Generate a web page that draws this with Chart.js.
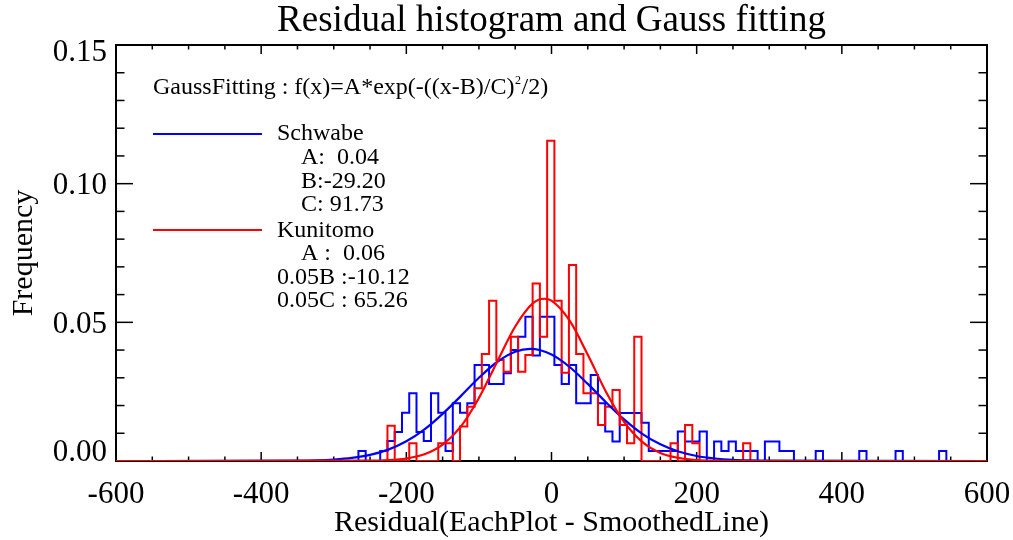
<!DOCTYPE html>
<html>
<head>
<meta charset="utf-8">
<title>Residual histogram and Gauss fitting</title>
<script src="https://cdn.jsdelivr.net/npm/chart.js@4/dist/chart.umd.min.js"></script>
<style>
    body { margin: 0; background: #fff; }
    #wrap { width: 1013px; height: 540px; }
</style>
</head>
<body>
<div id="wrap"><canvas id="histChart" width="1013" height="540"></canvas></div>
<script>
// bins of the two histograms (left edge of first bin, width)
const binStart = -266;
const binWidth = 10;

// Schwabe residual histogram (frequency per bin)
const schwabeFreq = [
    0.0036, 0, 0, 0.0036, 0.0072, 0.0105, 0.0174, 0.0244, 0.0105, 0.0072,
    0.0244, 0.0174, 0.0036, 0.0208, 0.0174, 0.0208, 0.0346, 0.0346, 0.0278, 0.0278,
    0.0316, 0.0400, 0.0448, 0.0520, 0.0380, 0.0520, 0.0520, 0.0346, 0.0278, 0.0346,
    0.0208, 0.0208, 0.0310, 0.0208, 0.0106, 0.0070, 0.0173, 0.0173, 0.0173, 0.0138,
    0.0036, 0.0036, 0.0036, 0.0036, 0.0106, 0.0070, 0.0070, 0.0106, 0, 0.0070,
    0.0036, 0.0070, 0.0036, 0.0036, 0.0036, 0, 0.0070, 0.0070, 0.0036, 0.0036,
    0, 0, 0, 0.0036, 0, 0, 0, 0, 0, 0.0036,
    0, 0, 0, 0, 0.0036, 0, 0, 0, 0, 0,
    0.0036
];

// Kunitomo residual histogram (frequency per bin)
const kunitomoFreq = [
    0, 0, 0, 0, 0.0127, 0, 0, 0.0064, 0, 0,
    0, 0.0064, 0.0064, 0, 0.0124, 0.0196, 0.0262, 0.0386, 0.0578, 0.0364,
    0.0322, 0.0448, 0.0322, 0.0382, 0.0640, 0.0448, 0.1155, 0.0578, 0.0318, 0.0707,
    0.0386, 0.0244, 0.0244, 0.0130, 0.0196, 0.0256, 0.0130, 0.0064, 0.0448, 0,
    0, 0, 0, 0.0064, 0, 0.0130, 0.0064, 0, 0, 0,
    0, 0, 0, 0.0064
];

// gauss fitting lines
const schwabeFitX = [-600, -350, -325, -300, -275, -250, -225, -200, -175, -150, -125, -100, -75, -50, -29,
    0, 25, 50, 75, 100, 125, 150, 175, 200, 225, 250, 275, 300, 600];
const schwabeFitY = [0, 0.0001, 0.0002, 0.0005, 0.0011, 0.0022, 0.0041, 0.0071, 0.0114, 0.0170, 0.0234, 0.0300, 0.0357, 0.0394, 0.0404,
    0.0384, 0.0339, 0.0278, 0.0212, 0.0150, 0.0098, 0.0060, 0.0034, 0.0018, 0.0009, 0.0004, 0.0002, 0.0001, 0];
const kunitomoFitX = [-600, -250, -225, -200, -175, -150, -125, -100, -75, -50, -25, -10,
    0, 25, 50, 75, 100, 125, 150, 175, 200, 225, 250, 600];
const kunitomoFitY = [0, 0.0001, 0.0003, 0.0009, 0.0024, 0.0059, 0.0124, 0.0227, 0.0357, 0.0485, 0.0570, 0.0585,
    0.0578, 0.0506, 0.0383, 0.0250, 0.0141, 0.0069, 0.0029, 0.0011, 0.0003, 0.0001, 0, 0];

const xTicks = [-600, -400, -200, 0, 200, 400, 600];
const yTicks = [0.00, 0.05, 0.10, 0.15];

const schwabeText = ['A:  0.04', 'B:-29.20', 'C: 91.73'];
const kunitomoText = ['A :  0.06', '0.05B :-10.12', '0.05C : 65.26'];

const BLUE = '#0000ff';
const RED = '#ff0000';
const SERIF = '"Liberation Serif", "Times New Roman", serif';

function histPoints(freq) {
    const pts = [{ x: binStart, y: 0 }];
    freq.forEach((v, i) => pts.push({ x: binStart + i * binWidth, y: v }));
    pts.push({ x: binStart + freq.length * binWidth, y: 0 });
    return pts;
}

function zipPoints(xs, ys) {
    return xs.map((x, i) => ({ x: x, y: ys[i] }));
}

function line(ctx, x1, y1, x2, y2) {
    ctx.beginPath();
    ctx.moveTo(x1, y1);
    ctx.lineTo(x2, y2);
    ctx.stroke();
}

// IDL-like frame: box, inward ticks on all sides, labels and text block
const idlFrame = {
    id: 'idlFrame',
    beforeDatasetsDraw(chart) {
        const { ctx, chartArea: a, scales: { x, y } } = chart;
        ctx.save();
        ctx.strokeStyle = '#000';
        ctx.lineWidth = 2;
        ctx.strokeRect(a.left, a.top, a.right - a.left, a.bottom - a.top);
        ctx.lineWidth = 1.5;
        for (let v = -600; v <= 600; v += 50) {
            const px = x.getPixelForValue(v);
            const len = v % 200 === 0 ? 9 : 4.5;
            line(ctx, px, a.bottom, px, a.bottom - len);
            line(ctx, px, a.top, px, a.top + len);
        }
        for (let i = 0; i <= 15; i++) {
            const py = y.getPixelForValue(i / 100);
            const len = i % 5 === 0 ? 17 : 8.5;
            line(ctx, a.left, py, a.left + len, py);
            line(ctx, a.right, py, a.right - len, py);
        }
        ctx.restore();
    },
    afterDraw(chart) {
        const { ctx, chartArea: a, scales: { x, y } } = chart;
        ctx.save();
        ctx.fillStyle = '#000';
        ctx.textBaseline = 'alphabetic';

        // title
        ctx.font = '37px ' + SERIF;
        ctx.textAlign = 'center';
        ctx.fillText('Residual histogram and Gauss fitting', (a.left + a.right) / 2, 31);

        // x ticks and x title
        ctx.font = '31px ' + SERIF;
        xTicks.forEach(v => ctx.fillText(String(v), x.getPixelForValue(v), 503));
        ctx.font = '30px ' + SERIF;
        ctx.fillText('Residual(EachPlot - SmoothedLine)', (a.left + a.right) / 2, 531);

        // y ticks
        ctx.font = '31px ' + SERIF;
        ctx.textAlign = 'right';
        yTicks.forEach(v => {
            let py = y.getPixelForValue(v);
            py = Math.min(Math.max(py, a.top + 5), a.bottom - 11);
            ctx.fillText(v.toFixed(2), a.left - 9, py + 10.5);
        });

        // y title
        ctx.save();
        ctx.font = '30px ' + SERIF;
        ctx.translate(32, (a.top + a.bottom) / 2);
        ctx.rotate(-Math.PI / 2);
        ctx.textAlign = 'center';
        ctx.fillText('Frequency', 0, 0);
        ctx.restore();

        // fitting text block
        ctx.textAlign = 'left';
        ctx.font = '24px ' + SERIF;
        let tx = a.left + 37;
        const head = 'GaussFitting : f(x)=A*exp(-((x-B)/C)';
        ctx.fillText(head, tx, 94);
        tx += ctx.measureText(head).width;
        ctx.font = '12px ' + SERIF;
        ctx.fillText('2', tx + 0.5, 84);
        tx += ctx.measureText('2').width + 1;
        ctx.font = '24px ' + SERIF;
        ctx.fillText('/2)', tx, 94);

        ctx.lineWidth = 2;
        ctx.strokeStyle = BLUE;
        line(ctx, a.left + 37, 134, a.left + 146, 134);
        ctx.fillText('Schwabe', a.left + 161, 140);
        schwabeText.forEach((t, i) => ctx.fillText(t, a.left + 185, 164 + i * 23.7));

        ctx.strokeStyle = RED;
        line(ctx, a.left + 37, 230, a.left + 146, 230);
        ctx.fillText('Kunitomo', a.left + 161, 236.5);
        ctx.fillText(kunitomoText[0], a.left + 185, 260);
        ctx.fillText(kunitomoText[1], a.left + 161, 283.5);
        ctx.fillText(kunitomoText[2], a.left + 161, 307);
        ctx.restore();
    }
};

const ctx = document.getElementById('histChart');
new Chart(ctx, {
    type: 'line',
    data: {
        datasets: [
            {
                label: 'Kunitomo fit',
                data: zipPoints(kunitomoFitX, kunitomoFitY),
                borderColor: RED,
                borderWidth: 2.2,
                pointRadius: 0,
                cubicInterpolationMode: 'monotone',
                fill: false
            },
            {
                label: 'Schwabe fit',
                data: zipPoints(schwabeFitX, schwabeFitY),
                borderColor: BLUE,
                borderWidth: 2.2,
                pointRadius: 0,
                cubicInterpolationMode: 'monotone',
                fill: false
            },
            {
                label: 'Kunitomo',
                data: histPoints(kunitomoFreq),
                borderColor: RED,
                borderWidth: 2,
                pointRadius: 0,
                stepped: 'before',
                fill: false
            },
            {
                label: 'Schwabe',
                data: histPoints(schwabeFreq),
                borderColor: BLUE,
                borderWidth: 2,
                pointRadius: 0,
                stepped: 'before',
                fill: false
            }
        ]
    },
    options: {
        responsive: false,
        animation: false,
        layout: {
            padding: { left: 116, right: 26, top: 45, bottom: 79 }
        },
        scales: {
            x: { type: 'linear', min: -600, max: 600, display: false },
            y: { type: 'linear', min: 0, max: 0.15, display: false }
        },
        plugins: {
            legend: { display: false },
            title: { display: false },
            tooltip: { enabled: false }
        }
    },
    plugins: [idlFrame]
});
</script>
</body>
</html>
